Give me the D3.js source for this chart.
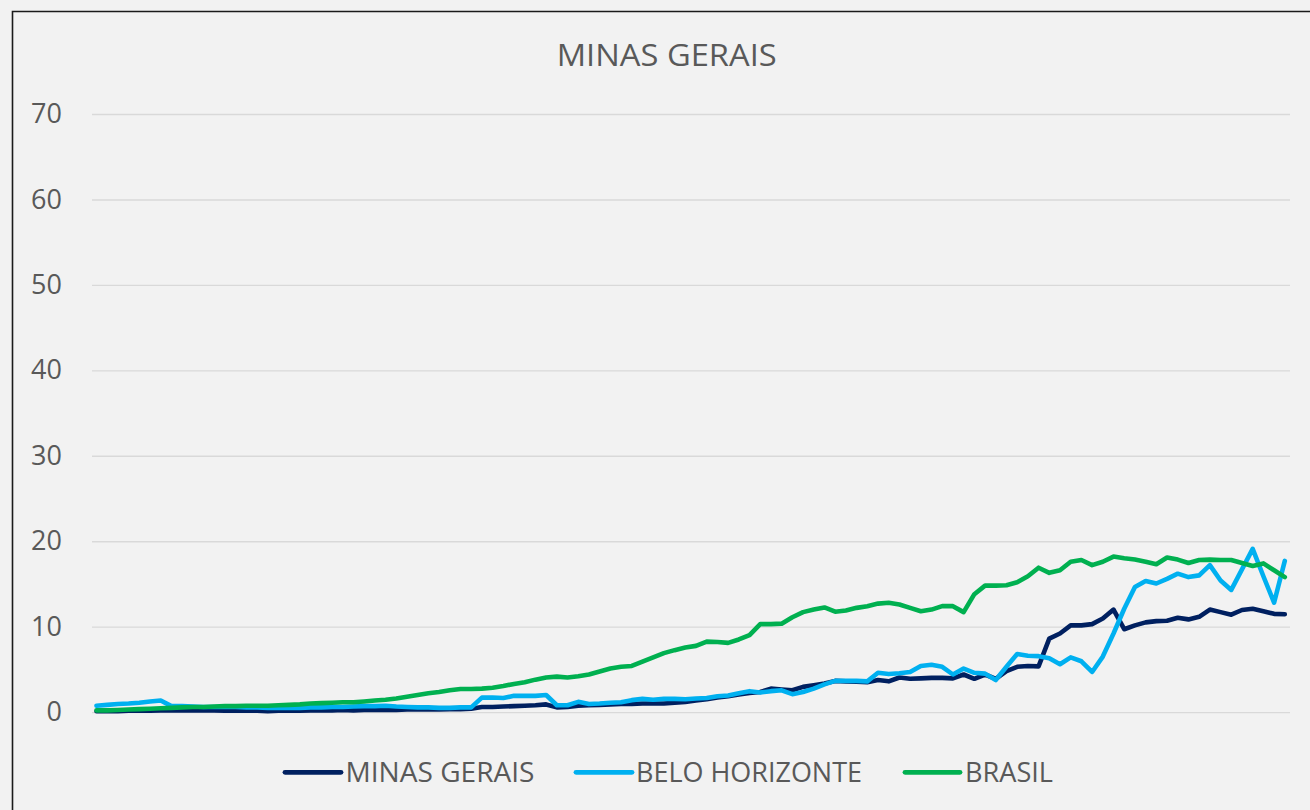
<!DOCTYPE html>
<html>
<head>
<meta charset="utf-8">
<script src="https://cdn.jsdelivr.net/npm/d3@7/dist/d3.min.js"></script>
<style>
  html, body { margin: 0; padding: 0; background: #F2F2F2; }
  svg { display: block; }
  text { font-family: "Open Sans", "Noto Sans", sans-serif; fill: #595959; }
</style>
</head>
<body>
<svg id="chart" width="1310" height="810"></svg>
<script>
// ---------------- DATA ----------------
const title = "MINAS GERAIS";
const periods = d3.range(1, 113); // 112 periods (no x labels shown)
const yTicks = [0, 10, 20, 30, 40, 50, 60, 70];
const seriesNames = ["MINAS GERAIS", "BELO HORIZONTE", "BRASIL"];
const seriesColors = ["#002060", "#00B0F0", "#00B050"];

const minasGerais = [
  0.1,0.1,0.1,0.15,0.15,0.15,0.2,0.2,0.2,0.2,
  0.2,0.2,0.15,0.15,0.15,0.15,0.1,0.15,0.15,0.15,
  0.2,0.2,0.2,0.25,0.2,0.25,0.25,0.25,0.25,0.3,
  0.3,0.3,0.3,0.35,0.35,0.4,0.6,0.6,0.65,0.7,
  0.75,0.8,0.9,0.55,0.6,0.75,0.8,0.85,0.9,0.95,
  0.95,1.0,1.0,1.0,1.1,1.2,1.35,1.5,1.7,1.85,
  2.05,2.25,2.35,2.75,2.65,2.55,2.95,3.15,3.35,3.65,
  3.6,3.55,3.5,3.75,3.6,4.05,3.9,3.95,4.0,4.0,
  3.95,4.4,3.9,4.4,3.9,4.8,5.3,5.4,5.35,8.6,
  9.2,10.15,10.15,10.3,10.95,12.0,9.7,10.15,10.5,10.65,
  10.7,11.05,10.85,11.15,12.0,11.7,11.4,11.95,12.1,11.8,
  11.5,11.45
];

const beloHorizonte = [
  0.75,0.85,0.95,1.0,1.1,1.25,1.35,0.7,0.7,0.65,
  0.6,0.6,0.6,0.6,0.55,0.55,0.5,0.5,0.5,0.5,
  0.55,0.55,0.6,0.6,0.65,0.7,0.7,0.75,0.65,0.6,
  0.55,0.55,0.5,0.5,0.55,0.55,1.7,1.7,1.65,1.9,
  1.9,1.9,2.0,0.8,0.8,1.2,0.95,1.0,1.1,1.15,
  1.4,1.55,1.45,1.55,1.55,1.5,1.6,1.65,1.85,1.95,
  2.2,2.45,2.3,2.45,2.55,2.1,2.35,2.75,3.25,3.65,
  3.65,3.65,3.6,4.6,4.45,4.55,4.7,5.4,5.55,5.3,
  4.4,5.1,4.6,4.5,3.75,5.3,6.8,6.6,6.55,6.3,
  5.6,6.4,5.95,4.7,6.5,9.2,12.1,14.65,15.35,15.05,
  15.6,16.2,15.8,16.0,17.2,15.4,14.3,16.7,19.1,15.9,
  12.8,17.7
];

const brasil = [
  0.2,0.2,0.25,0.3,0.35,0.4,0.45,0.5,0.55,0.6,
  0.6,0.65,0.7,0.7,0.75,0.75,0.75,0.8,0.85,0.9,
  1.0,1.05,1.1,1.15,1.15,1.25,1.35,1.45,1.6,1.8,
  2.0,2.2,2.35,2.55,2.7,2.7,2.75,2.85,3.05,3.3,
  3.5,3.8,4.05,4.15,4.05,4.2,4.4,4.75,5.1,5.3,
  5.4,5.9,6.4,6.9,7.25,7.55,7.75,8.25,8.2,8.1,
  8.5,9.0,10.3,10.3,10.35,11.1,11.7,12.0,12.25,11.75,
  11.9,12.2,12.4,12.7,12.8,12.6,12.2,11.8,12.0,12.4,
  12.4,11.7,13.8,14.8,14.8,14.85,15.2,15.9,16.9,16.3,
  16.6,17.6,17.8,17.2,17.6,18.2,18.0,17.85,17.6,17.3,
  18.1,17.85,17.45,17.8,17.85,17.8,17.8,17.45,17.1,17.4,
  16.6,15.8
];

// ---------------- CHART ----------------
const svg = d3.select("#chart");
const W = 1310, H = 810;

svg.append("rect").attr("width", W).attr("height", H).attr("fill", "#F2F2F2");

// chart frame (only left & top edges visible in the crop)
svg.append("path")
  .attr("d", `M12.5,${H + 2} V11.5 H${W + 2}`)
  .attr("fill", "none").attr("stroke", "#1a1a1a").attr("stroke-width", 1.6);

const plotLeft = 92, plotRight = 1290;
const x = d3.scaleLinear().domain([periods[0], periods[periods.length - 1]]).range([96.5, 1284.8]);
const y = d3.scaleLinear().domain([0, 70]).range([712.1, 114]);

// title
svg.append("text")
  .attr("x", 666.7).attr("y", 66)
  .attr("text-anchor", "middle")
  .attr("font-size", 31.5)
  .attr("textLength", 220).attr("lengthAdjust", "spacingAndGlyphs")
  .text(title);

// gridlines
const grid = svg.append("g")
  .attr("transform", `translate(${plotLeft},0)`)
  .call(d3.axisLeft(y).tickValues(yTicks).tickSize(-(plotRight - plotLeft)).tickFormat(""));
grid.select(".domain").remove();
grid.selectAll("line").attr("stroke", "#D9D9D9").attr("stroke-width", 1.4);

// y axis labels
const yAxis = svg.append("g")
  .attr("transform", `translate(${plotLeft},0)`)
  .call(d3.axisLeft(y).tickValues(yTicks).tickSize(0).tickPadding(30).tickFormat(d3.format("d")));
yAxis.select(".domain").remove();
yAxis.selectAll("text")
  .attr("font-size", 27)
  .attr("fill", "#595959")
  .style("font-family", '"Open Sans", "Noto Sans", sans-serif');

// lines
const allSeries = [minasGerais, beloHorizonte, brasil];
const line = d3.line().x((d, i) => x(periods[i])).y(d => y(d));
allSeries.forEach((vals, k) => {
  svg.append("path")
    .datum(vals)
    .attr("fill", "none")
    .attr("stroke", seriesColors[k])
    .attr("stroke-width", 4.6)
    .attr("stroke-linejoin", "round")
    .attr("stroke-linecap", "round")
    .attr("d", line);
});

// legend
const legendItems = [
  { x0: 285, x1: 341, tx: 345.5, tw: 189 },
  { x0: 576, x1: 632, tx: 636, tw: 226 },
  { x0: 905, x1: 960, tx: 965, tw: 88 }
];
const lg = svg.append("g");
legendItems.forEach((it, k) => {
  lg.append("line")
    .attr("x1", it.x0).attr("x2", it.x1)
    .attr("y1", 772.3).attr("y2", 772.3)
    .attr("stroke", seriesColors[k]).attr("stroke-width", 4.8)
    .attr("stroke-linecap", "round");
  lg.append("text")
    .attr("x", it.tx).attr("y", 782.3)
    .attr("font-size", 27.5)
    .attr("textLength", it.tw).attr("lengthAdjust", "spacingAndGlyphs")
    .text(seriesNames[k]);
});
</script>
</body>
</html>
